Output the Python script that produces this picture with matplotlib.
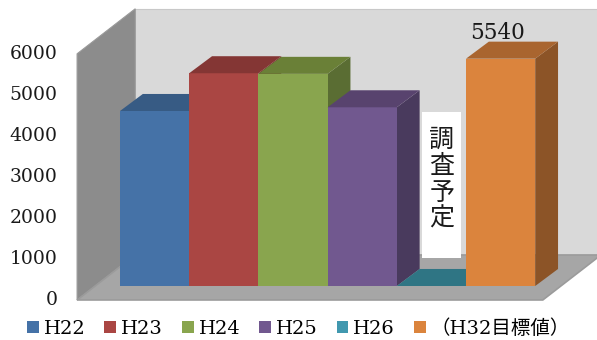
import matplotlib
matplotlib.use("Agg")
import matplotlib.pyplot as plt
from matplotlib.patches import Polygon, Patch, Rectangle

# data
categories = ["H22", "H23", "H24", "H25", "H26", "（H32目標値）"]
values = [4265, 5185, 5170, 4355, 0, 5540]
front_colors = ["#4572a7", "#aa4643", "#89a54e", "#71588f", "#2f7584", "#db843d"]
top_colors = ["#375b84", "#843634", "#6a8037", "#58436e", "#2f7584", "#a9652f"]
side_colors = ["#2f4e72", "#772f2d", "#5a6d33", "#493a5d", "#2a6774", "#8c5427"]
legend_colors = ["#4572a7", "#aa4643", "#89a54e", "#71588f", "#4198af", "#db843d"]
yticks = [0, 1000, 2000, 3000, 4000, 5000, 6000]
label_value = "5540"
pending_text = "調査予定"

serif = ["DejaVu Serif", "Noto Sans CJK JP"]

fig = plt.figure(figsize=(5.97, 3.40), dpi=100)
ax = fig.add_axes([0, 0, 1, 1])
ax.set_xlim(-2.234, 6.393)
ax.set_ylim(-1316, 6970)
ax.axis("off")

# 3d look: depth offsets in data units
dx, dz = 0.33, 415          # bar depth
wx0, wz0 = -1.12, -341      # wall / floor front corner
wdx, wdz = 0.84, 1097       # wall depth
floor_right = 5.61
top_val = 6000

# back wall
ax.add_patch(Polygon([(wx0 + wdx, wz0 + wdz), (7, wz0 + wdz), (7, wz0 + wdz + top_val),
                      (wx0 + wdx, wz0 + wdz + top_val)], closed=True,
                     fc="#d9d9d9", ec="#c8c8c8", lw=0.8, zorder=1))
# left wall
ax.add_patch(Polygon([(wx0, wz0), (wx0 + wdx, wz0 + wdz), (wx0 + wdx, wz0 + wdz + top_val),
                      (wx0, wz0 + top_val)], closed=True,
                     fc="#8c8c8c", ec="#9a9a9a", lw=0.8, zorder=2))
# floor
ax.add_patch(Polygon([(wx0, wz0), (floor_right, wz0), (floor_right + wdx, wz0 + wdz),
                      (wx0 + wdx, wz0 + wdz)], closed=True,
                     fc="#a6a6a6", ec="#9b9b9b", lw=1.2, zorder=2))

# bars
w = 1.0
for i, v in enumerate(values):
    left = i - w / 2
    right = i + w / 2
    z = 3 + i
    if v > 0:
        # side face
        ax.add_patch(Polygon([(right, 0), (right + dx, dz), (right + dx, v + dz), (right, v)],
                             closed=True, fc=side_colors[i], ec="none", zorder=z))
        ax.bar(i, v, width=w, color=front_colors[i], edgecolor="none", zorder=z)
    ax.add_patch(Polygon([(left, v), (right, v), (right + dx, v + dz), (left + dx, v + dz)],
                         closed=True, fc=top_colors[i], ec="none", zorder=z))

# y tick labels on the wall front
for t in yticks:
    ax.text(wx0 - 0.28, wz0 + t, str(t), ha="right", va="center",
            fontsize=13.5, family=serif, color="#1a1a1a")

# value label over the target bar
ax.annotate(label_value, (5 - 0.05, values[5] + dz), xytext=(0, 6),
            textcoords="offset points", ha="center", va="center",
            fontsize=15.5, family=serif, color="#1a1a1a", zorder=20)

# "調査予定" box
ax.add_patch(Rectangle((3.864, 682), 0.564, 3559, fc="white", ec="none", zorder=19))
ax.text(4.15, 2600, "\n".join(pending_text), ha="center", va="center", fontsize=18,
        family=["Noto Sans CJK JP", "DejaVu Sans"], linespacing=1.02, color="#1a1a1a",
        zorder=20)

handles = [Patch(fc=c, ec="none") for c in legend_colors]
fig.legend(handles, categories, loc="lower center", bbox_to_anchor=(0.5, -0.045), ncol=6,
           frameon=False, handlelength=0.6, handleheight=0.6, handletextpad=0.25,
           columnspacing=0.98, prop={"family": serif, "size": 14})

fig.savefig("out.png", dpi=100)
